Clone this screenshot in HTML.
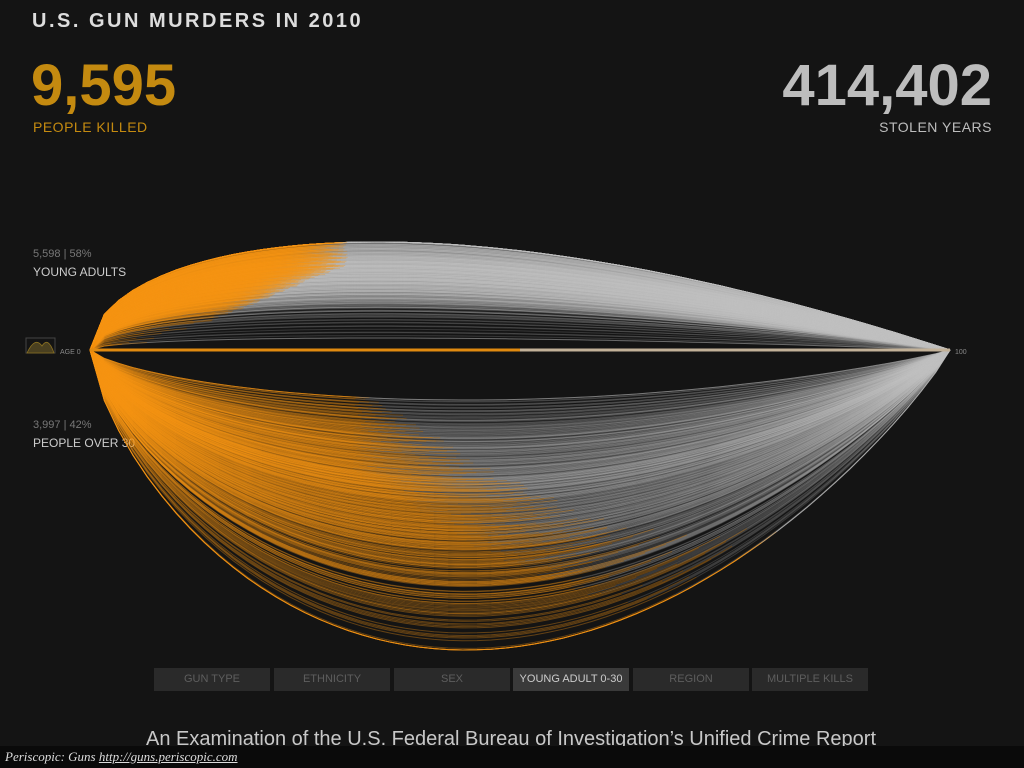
<!DOCTYPE html>
<html><head><meta charset="utf-8"><style>
body{margin:0;width:1024px;height:768px;background:#141414;overflow:hidden;font-family:"Liberation Sans",sans-serif;position:relative}
.t{position:absolute;white-space:nowrap}
.btn{position:absolute;top:668px;height:23px;width:116px;background:#2a2a2a;color:#5e5e5e;font-size:11px;text-align:center;line-height:23px}
</style></head><body>
<div class="t" style="left:32px;top:10px;font-size:20px;color:#ddd;letter-spacing:2.5px;font-weight:bold">U.S. GUN MURDERS IN 2010</div>
<div class="t" style="left:31px;top:52px;font-size:58px;color:#c48a10;font-weight:bold">9,595</div>
<div class="t" style="left:33px;top:119px;font-size:14px;color:#c48a10;letter-spacing:0.5px">PEOPLE KILLED</div>
<div class="t" style="right:32px;top:52px;font-size:58px;color:#bdbdbd;font-weight:bold">414,402</div>
<div class="t" style="right:32px;top:119px;font-size:14px;color:#bdbdbd;letter-spacing:0.5px">STOLEN YEARS</div>
<div class="t" style="left:33px;top:248px;font-size:11px;color:#777">5,598 | 58%</div>
<div class="t" style="left:33px;top:265px;font-size:12px;color:#ccc">YOUNG ADULTS</div>
<div class="t" style="left:33px;top:419px;font-size:11px;color:#777">3,997 | 42%</div>
<div class="t" style="left:33px;top:436px;font-size:12px;color:#ccc">PEOPLE OVER 30</div>
<svg width="1024" height="768" style="position:absolute;left:0;top:0">
<rect x="26" y="338" width="29" height="15" fill="none" stroke="#444"/>
<path d="M27,353 Q35,336 42,346 Q48,336 54,353 Z" fill="#4a4020" stroke="#8a7020" stroke-width="0.8"/>
<text x="60" y="354" font-size="7" fill="#888">AGE 0</text>
<text x="955" y="354" font-size="7" fill="#888">100</text>
<g id="arcs"></g>
<line x1="90" y1="350" x2="950" y2="350" stroke="#e08a10" stroke-width="3"/>
<line x1="520" y1="350" x2="950" y2="350" stroke="#bbb" stroke-width="3" opacity="0.8"/>
</svg>
<div class="btn" style="left:154px">GUN TYPE</div>
<div class="btn" style="left:274px">ETHNICITY</div>
<div class="btn" style="left:394px">SEX</div>
<div class="btn" style="left:513px;background:#3a3a3a;color:#ccc">YOUNG ADULT 0-30</div>
<div class="btn" style="left:633px">REGION</div>
<div class="btn" style="left:752px">MULTIPLE KILLS</div>
<div class="t" style="left:146px;top:728px;font-size:20px;color:#c8c8c8">An Examination of the U.S. Federal Bureau of Investigation’s Unified Crime Report</div>
<div style="position:absolute;left:0;top:746px;width:1024px;height:22px;background:#0a0a0a"></div>
<div class="t" style="left:5px;top:749px;font-size:13px;color:#ddd;font-style:italic;font-family:'Liberation Serif',serif">Periscopic: Guns <u>http://guns.periscopic.com</u></div>
<script>
const youngAges=[8,15,17,19,21,23,25,27,29];
const youngCounts=[250,380,650,820,800,720,700,660,618];
const olderAges=[33,38,43,48,53,58,65,75];
const olderCounts=[900,760,640,560,450,320,250,117];
const PER=8;
const g=document.getElementById('arcs');
const x=a=>90+a*8.6, y0=350;
function shape(t,a,b){return Math.pow(t,a)*Math.pow(1-t,b)/(Math.pow(a/(a+b),a)*Math.pow(b/(a+b),b));}
function arc(age,h,dir,a,b){
  const td=Math.max(0.001,Math.min(0.999,(x(age)-90)/860));
  const pt=t=>(90+t*860).toFixed(1)+','+(y0+dir*h*shape(t,a,b)).toFixed(1);
  let p1='M'+pt(0),p2='M'+pt(td);
  for(let i=1;i<=60;i++){const t=i/60;
    if(t<td)p1+='L'+pt(t); else p2+='L'+pt(t);}
  p1+='L'+pt(td);
  const o=document.createElementNS('http://www.w3.org/2000/svg','path');
  
  
  o.setAttribute('d',p1);o.setAttribute('fill','none');o.setAttribute('stroke','rgba(245,150,20,0.35)');
  const s=document.createElementNS('http://www.w3.org/2000/svg','path');
  
  
  s.setAttribute('d',p2);s.setAttribute('fill','none');s.setAttribute('stroke','rgba(195,195,195,0.2)');
  g.appendChild(s);g.appendChild(o);
}
let k=0;
youngAges.forEach((age,i)=>{const n=Math.round(youngCounts[i]/PER);
  for(let j=0;j<n;j++){k++;const f=(k*0.618034)%1;const f2=(k*0.41421)%1;
    const ag=age+(f2-0.5)*(i==0?12:2);
    let h=25+(ag-5)/25*80+(f-0.5)*40;h=Math.max(12,Math.min(108,h));
    arc(ag,h,-1,0.5,1.0);}});
olderAges.forEach((age,i)=>{const n=Math.round(olderCounts[i]/PER);
  for(let j=0;j<n;j++){k++;const f=(k*0.618034)%1;const f2=(k*0.41421)%1;
    const ag=age+(f2-0.5)*(i>=6?10:5);
    let h=80+(ag-30)/45*220+(f-0.5)*90;h=Math.max(50,Math.min(300,h));
    arc(ag,h,1,0.7,0.9);}});
</script>
</body></html>
